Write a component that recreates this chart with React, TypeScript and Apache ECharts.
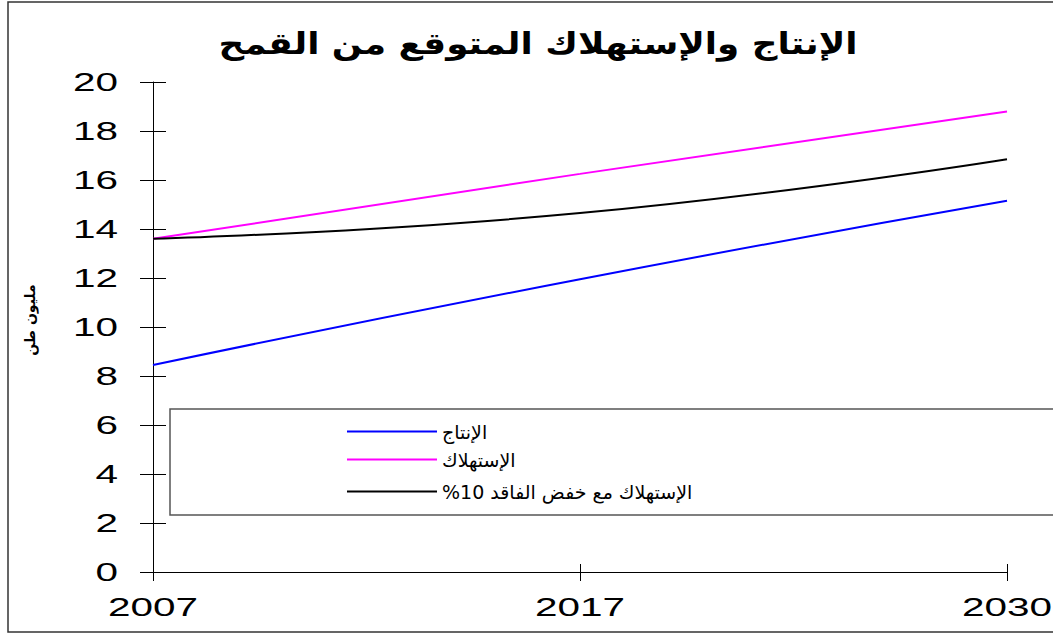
import React, { useEffect, useRef } from "react";
import * as echarts from "echarts";

const title = "الإنتاج والإستهلاك المتوقع من القمح";
const yAxisName = "مليون طن";
const years = ["2007", "2017", "2030"];
const yTicks = [0, 2, 4, 6, 8, 10, 12, 14, 16, 18, 20];
const seriesNames = ["الإنتاج", "الإستهلاك", "الإستهلاك مع خفض الفاقد 10%"];
const production = [8.45, 11.95, 15.15];
const consumption = [13.6, 16.25, 18.8];
const consumptionReduced = [13.6, 14.65, 16.85];
const colors = ["#0000FF", "#FF00FF", "#000000"];

export default function App() {
  const ref = useRef<HTMLDivElement>(null);
  useEffect(() => {
    document.body.style.margin = "0";
    const chart = echarts.init(ref.current!, undefined, { renderer: "svg" });
    const font = "Arial, 'Liberation Sans', sans-serif";
    const yBase = {
      type: "value" as const,
      min: 0,
      max: 20,
      interval: 2,
      position: "left" as const,
      splitLine: { show: false },
    };
    const xBase = {
      type: "category" as const,
      data: years,
      boundaryGap: false,
      position: "bottom" as const,
    };
    const legendTops = [422, 450, 482];
    const staticGraphics: any[] = [
      {
        type: "rect",
        shape: { x: 8, y: 2, width: 1100, height: 630 },
        style: { fill: "none", stroke: "#333", lineWidth: 1.5 },
        silent: true,
      },
      {
        type: "rect",
        shape: { x: 170, y: 409, width: 950, height: 106 },
        style: { fill: "#fff", stroke: "#555", lineWidth: 1.5 },
        silent: true,
      },
      {
        type: "text",
        x: 538,
        y: 44,
        scaleX: 1.19,
        style: {
          text: title,
          fill: "#000",
          font: "bold 30px 'DejaVu Sans', sans-serif",
          textAlign: "center",
          textVerticalAlign: "middle",
        },
      },
      {
        type: "text",
        x: 30,
        y: 320,
        rotation: Math.PI / 2,
        style: {
          text: yAxisName,
          fill: "#000",
          font: "bold 14px 'DejaVu Sans', sans-serif",
          textAlign: "center",
          textVerticalAlign: "middle",
        },
      },
    ];
    chart.setOption({
      animation: false,
      backgroundColor: "#fff",
      textStyle: { fontFamily: font },
      grid: { left: 153, right: 46, top: 82, bottom: 64 },
      xAxis: [
        {
          ...xBase,
          axisLine: { lineStyle: { color: "#000", width: 1 } },
          axisTick: { length: 9, lineStyle: { color: "#000" } },
          axisLabel: { show: false },
        },
        {
          ...xBase,
          axisLine: { show: false },
          axisTick: { inside: true, length: 8, lineStyle: { color: "#000" } },
          axisLabel: { show: false },
        },
      ],
      yAxis: [
        {
          ...yBase,
          axisLine: { show: true, lineStyle: { color: "#000", width: 1 } },
          axisTick: { show: true, length: 13, lineStyle: { color: "#000" } },
          axisLabel: { show: false },
        },
        {
          ...yBase,
          axisLine: { show: false },
          axisTick: { show: true, inside: true, length: 13, lineStyle: { color: "#000" } },
          axisLabel: { show: false },
        },
      ],
      legend: seriesNames.map((n, i) => ({
        data: [n],
        left: 347,
        top: legendTops[i],
        padding: 0,
        icon: "rect",
        itemWidth: 90,
        itemHeight: 2,
        itemGap: 4,
        formatter: (name: string) => name + "\u200F",
        textStyle: {
          color: "#000",
          fontSize: 19,
          fontFamily: "'DejaVu Sans', sans-serif",
        },
      })),
      series: [production, consumption, consumptionReduced].map((d, i) => ({
        name: seriesNames[i],
        type: "line",
        data: d,
        smooth: true,
        symbol: "none",
        xAxisIndex: 0,
        yAxisIndex: 0,
        lineStyle: { color: colors[i], width: 2 },
        itemStyle: { color: colors[i] },
      })),
      graphic: staticGraphics,
    });

    const labelGraphics: any[] = [];
    yTicks.forEach((v) => {
      const py = chart.convertToPixel({ yAxisIndex: 0 }, v) as number;
      labelGraphics.push({
        type: "text",
        x: 118,
        y: py,
        scaleX: 1.62,
        style: {
          text: String(v),
          fill: "#000",
          font: "25px " + font,
          textAlign: "right",
          textVerticalAlign: "middle",
        },
      });
    });
    years.forEach((yr) => {
      const px = chart.convertToPixel({ xAxisIndex: 0 }, yr) as number;
      labelGraphics.push({
        type: "text",
        x: px,
        y: 607,
        scaleX: 1.62,
        style: {
          text: yr,
          fill: "#000",
          font: "25px " + font,
          textAlign: "center",
          textVerticalAlign: "middle",
        },
      });
    });
    chart.setOption({ graphic: [...staticGraphics, ...labelGraphics] }, { replaceMerge: ["graphic"] });
    return () => chart.dispose();
  }, []);
  return <div ref={ref} style={{ width: 1053, height: 636 }} />;
}
